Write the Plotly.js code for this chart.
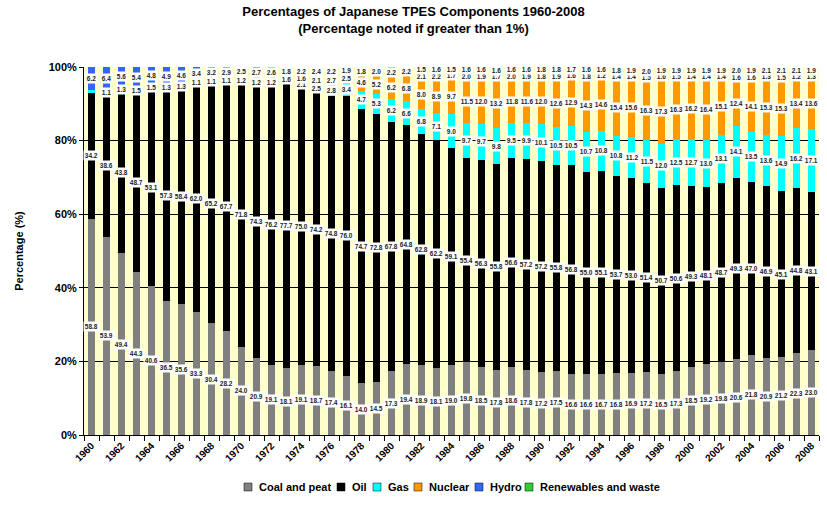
<!DOCTYPE html>
<html>
<head>
<meta charset="utf-8">
<script src="https://cdn.plot.ly/plotly-3.0.1.min.js"></script>
<style>html,body{margin:0;padding:0;background:#fff;}#chart{width:827px;height:506px;}</style>
</head>
<body>
<div id="chart"></div>
<script>
var years = [1960,1961,1962,1963,1964,1965,1966,1967,1968,1969,1970,1971,1972,1973,1974,1975,1976,1977,1978,1979,1980,1981,1982,1983,1984,1985,1986,1987,1988,1989,1990,1991,1992,1993,1994,1995,1996,1997,1998,1999,2000,2001,2002,2003,2004,2005,2006,2007,2008];
var tickYears = [1960,1962,1964,1966,1968,1970,1972,1974,1976,1978,1980,1982,1984,1986,1988,1990,1992,1994,1996,1998,2000,2002,2004,2006,2008];
var coal = [58.8,53.9,49.4,44.3,40.6,36.5,35.6,33.3,30.4,28.2,24.0,20.9,19.1,18.1,19.1,18.7,17.4,16.1,14.0,14.5,17.3,19.4,18.9,18.1,19.0,19.8,18.5,17.8,18.6,17.8,17.2,17.5,16.6,16.6,16.7,16.8,16.9,17.2,16.5,17.3,18.5,19.2,19.8,20.6,21.8,20.9,21.2,22.3,23.0];
var oil = [34.2,38.6,43.8,48.7,53.1,57.3,58.4,62.0,65.2,67.7,71.8,74.3,76.2,77.7,75.0,74.2,74.8,76.0,74.7,72.8,67.8,64.8,62.8,62.2,59.1,55.4,56.3,55.8,56.6,57.2,57.2,55.8,56.8,55.0,55.1,53.7,53.0,51.4,50.7,50.6,49.3,48.1,48.7,49.3,47.0,46.9,45.1,44.8,43.1];
var gas = [0.8,1.1,1.3,1.5,1.5,1.3,1.3,1.1,1.1,1.1,1.2,1.2,1.2,1.6,2.1,2.5,2.8,3.4,4.7,5.3,6.2,6.6,6.8,7.1,9.0,9.7,9.7,9.8,9.5,9.9,10.1,10.5,10.5,10.7,10.8,10.8,11.2,11.5,12.0,12.5,12.7,13.0,13.1,14.1,13.5,13.6,14.9,16.2,17.1];
var nuclear = [0,0,0,0,0,0,0.1,0.2,0.1,0.1,0.4,0.8,0.7,0.6,1.6,2.1,2.7,2.5,4.6,5.2,6.2,6.8,8.0,8.9,9.7,11.5,12.0,13.2,11.8,11.6,12.0,12.6,12.9,14.3,14.6,15.4,15.6,16.3,17.3,16.3,16.2,16.4,15.1,12.4,14.1,15.3,15.3,13.4,13.6];
var hydro = [6.2,6.4,5.6,5.4,4.8,4.9,4.6,3.4,3.2,2.9,2.5,2.7,2.6,1.8,2.2,2.4,2.2,1.9,1.8,2.0,2.2,2.2,2.1,2.2,1.7,2.0,1.9,1.7,2.0,1.9,1.8,1.9,1.6,1.8,1.2,1.4,1.4,1.5,1.6,1.5,1.4,1.4,1.4,1.6,1.6,1.3,1.5,1.2,1.3];
var renew = [0,0,0,0.1,0,0,0,0,0,0,0.1,0.1,0.2,0.2,0,0.1,0.1,0.1,0.2,0.2,0.3,0.2,1.5,1.6,1.5,1.6,1.6,1.6,1.6,1.6,1.8,1.8,1.7,1.6,1.6,1.8,1.9,2.0,1.9,1.9,1.9,1.9,1.9,2.0,1.9,2.1,2.1,2.1,1.9];

var seriesNames = ['Coal and peat','Oil','Gas','Nuclear','Hydro','Renewables and waste'];
var seriesData = [coal, oil, gas, nuclear, hydro, renew];
var seriesColors = ['#808080','#000000','#00FFFF','#FF9900','#3366FF','#33CC33'];

var FONT = 'Arial, "Liberation Sans", sans-serif';
// plot area geometry (pixels) for placing the legend outside the plot
var PL = 84, PR = 819, PT = 67, PB = 435;
var legendMarkerX = [244, 337, 373, 414, 475, 525];
var legendY = 487;

var traces = [];
for (var s = 0; s < seriesData.length; s++) {
  traces.push({
    type: 'bar', x: years, y: seriesData[s], name: seriesNames[s],
    marker: {color: seriesColors[s], line: {width: 0}},
    hoverinfo: 'skip', showlegend: false
  });
}

var annotations = [];
for (var i = 0; i < years.length; i++) {
  var base = 0;
  for (var s2 = 0; s2 < seriesData.length; s2++) {
    var v = seriesData[s2][i];
    if (v > 1) {
      annotations.push({
        x: years[i], y: base + v / 2, xref: 'x', yref: 'y',
        text: '<b>' + v.toFixed(1) + '</b>', showarrow: false,
        font: {family: FONT, size: 6.5, color: '#222'},
        bgcolor: '#FFFFFF', borderpad: 0.8
      });
    }
    base += v;
  }
}

// custom compact legend
var shapes = [];
function px2x(p) { return (p - PL) / (PR - PL); }
function py2y(p) { return (PB - p) / (PB - PT); }
for (var k = 0; k < seriesNames.length; k++) {
  var mx = legendMarkerX[k];
  shapes.push({type: 'rect', xref: 'paper', yref: 'paper',
    x0: px2x(mx), x1: px2x(mx + 8), y0: py2y(legendY + 4), y1: py2y(legendY - 4),
    fillcolor: seriesColors[k], line: {color: '#000', width: 0.5}});
  annotations.push({xref: 'paper', yref: 'paper', x: px2x(mx + 13), y: py2y(legendY),
    xanchor: 'left', yanchor: 'middle', showarrow: false,
    text: '<b>' + seriesNames[k] + '</b>', font: {family: FONT, size: 11, color: '#000'}});
}

var layout = {
  width: 827, height: 506,
  paper_bgcolor: '#FFFFFF', plot_bgcolor: '#FFFFCC',
  margin: {l: PL, r: 827 - PR, t: PT, b: 506 - PB},
  barmode: 'stack', bargap: 0.55,
  showlegend: false,
  title: {
    text: '<b>Percentages of Japanese TPES Components 1960-2008<br>(Percentage noted if greater than 1%)</b>',
    font: {family: FONT, size: 13, color: '#000'},
    x: 0.5, xref: 'container', xanchor: 'center', y: 0.968, yref: 'container', yanchor: 'middle'
  },
  font: {family: FONT, color: '#000'},
  xaxis: {
    range: [1959.5, 2008.5], tickvals: tickYears, ticktext: tickYears.map(function(y){return '<b>'+y+'</b>';}),
    tickangle: -45, tickfont: {family: FONT, size: 10, color: '#000'},
    showgrid: false, zeroline: false, showline: true, linecolor: '#000', linewidth: 1,
    ticks: '',
    minor: {tick0: 1959.5, dtick: 1, ticks: 'outside', ticklen: 5, tickcolor: '#000', showgrid: false}
  },
  yaxis: {
    range: [0, 100], tickvals: [0,20,40,60,80,100],
    ticktext: ['<b>0%</b>','<b>20%</b>','<b>40%</b>','<b>60%</b>','<b>80%</b>','<b>100%</b>'],
    tickfont: {family: FONT, size: 11, color: '#000'},
    showgrid: true, gridcolor: '#000', gridwidth: 1, zeroline: false,
    showline: true, linecolor: '#000', linewidth: 1, ticks: 'outside', ticklen: 4, tickcolor: '#000',
    title: {text: '<b>Percentage (%)</b>', font: {family: FONT, size: 11, color: '#000'}, standoff: 22}
  },
  annotations: annotations,
  shapes: shapes
};

Plotly.newPlot('chart', traces, layout, {displayModeBar: false, staticPlot: true});
</script>
</body>
</html>
